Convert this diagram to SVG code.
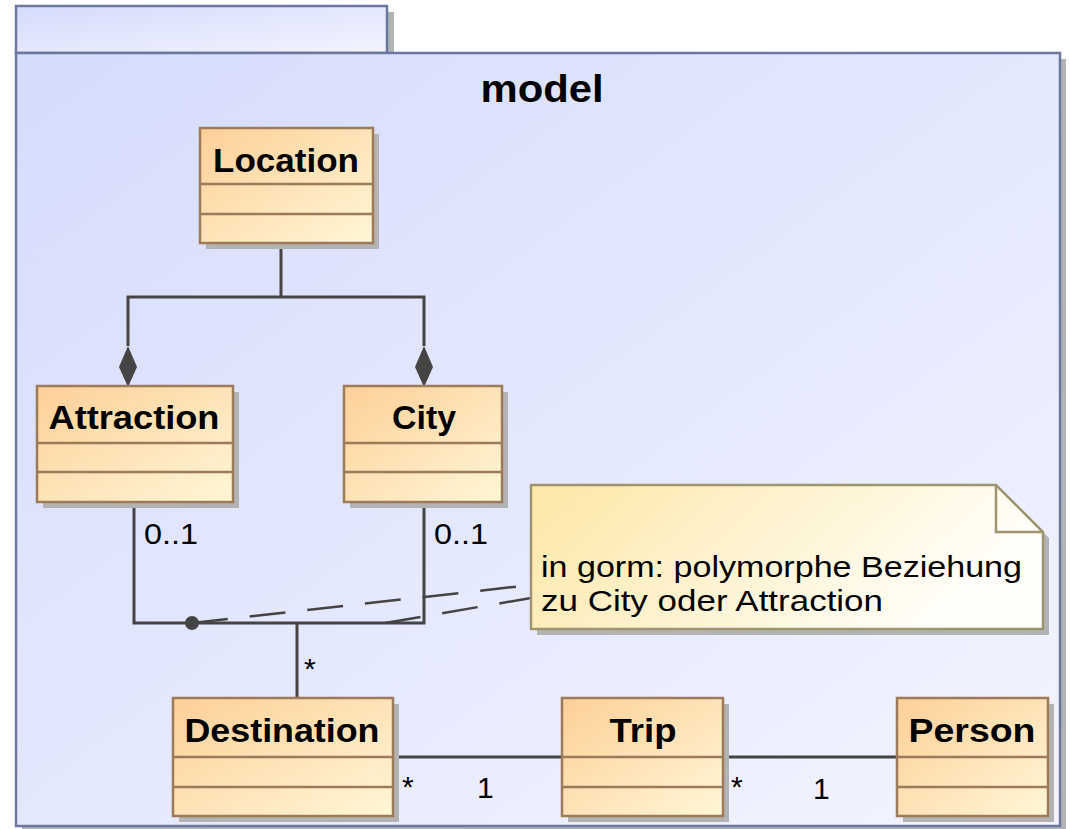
<svg xmlns="http://www.w3.org/2000/svg" width="1070" height="829" viewBox="0 0 1070 829">
<defs>
<linearGradient id="pkg" x1="0" y1="0" x2="1" y2="1">
<stop offset="0" stop-color="#d5dcfb"/>
<stop offset="1" stop-color="#f3f4ff"/>
</linearGradient>
<linearGradient id="cls" x1="0" y1="0" x2="1" y2="1">
<stop offset="0" stop-color="#fdcf98"/>
<stop offset="1" stop-color="#fff7d6"/>
</linearGradient>
<linearGradient id="note" x1="0" y1="0" x2="1" y2="0.3">
<stop offset="0" stop-color="#fde7a6"/>
<stop offset="1" stop-color="#fffefa"/>
</linearGradient>
</defs>
<style>
.shadow{fill:#b3b3b3}
.pkg{fill:url(#pkg);stroke:#6b779f;stroke-width:2.5}
.cls{fill:url(#cls);stroke:#9c7a5a;stroke-width:2.5}
.sep{stroke:#9c7a5a;stroke-width:2.5}
.name{font-family:"Liberation Sans",Arial,sans-serif;font-weight:bold;font-size:34px;fill:#000;text-anchor:middle}
.mult{font-family:"Liberation Sans",Arial,sans-serif;font-size:30px;fill:#000}
.line{fill:none;stroke:#444;stroke-width:3}
.dash{fill:none;stroke:#444;stroke-width:2.5;stroke-dasharray:36,22}
.note{fill:url(#note);stroke:#9e9470;stroke-width:2.5}
.ntext{font-family:"Liberation Sans",Arial,sans-serif;font-size:29px;fill:#000}
</style>

<g id="package">
<rect class="shadow" x="22" y="12" width="372" height="47"/>
<rect class="shadow" x="22" y="59" width="1044" height="773"/>
<rect class="pkg" x="16" y="6" width="371" height="47"/>
<rect class="pkg" x="16" y="53" width="1044" height="773"/>
<text x="542" y="102" font-family="Liberation Sans, Arial, sans-serif" font-weight="bold" font-size="38" text-anchor="middle" textLength="123" lengthAdjust="spacingAndGlyphs">model</text>
</g>

<g id="connectors">
<polyline class="line" points="281,243 281,297"/>
<polyline class="line" points="128,346 128,297 424,297 424,346"/>
<polygon points="128,346 137,367 128,387 119,367" fill="#444"/>
<polygon points="424,346 433,367 424,387 415,367" fill="#444"/>
<polyline class="line" points="134,502 134,623 424,623 424,502"/>
<line class="line" x1="297" y1="623" x2="297" y2="698"/>
<circle cx="192" cy="623" r="7" fill="#444"/>
<line class="dash" x1="192" y1="623" x2="531" y2="585"/>
<line class="dash" x1="385" y1="623" x2="531" y2="598" stroke-dasharray="44,22"/>
<line class="line" x1="393" y1="757" x2="562" y2="757"/>
<line class="line" x1="723" y1="757" x2="897" y2="757"/>
<text class="mult" x="144" y="544" textLength="54" lengthAdjust="spacingAndGlyphs">0..1</text>
<text class="mult" x="434" y="544" textLength="54" lengthAdjust="spacingAndGlyphs">0..1</text>
<text class="mult" x="304" y="679">*</text>
<text class="mult" x="402" y="797">*</text>
<text class="mult" x="477" y="798">1</text>
<text class="mult" x="731" y="797">*</text>
<text class="mult" x="813" y="799">1</text>
</g>

<g id="Location">
<rect class="shadow" x="206" y="134" width="173" height="115"/>
<rect class="cls" x="200" y="128" width="173" height="115"/>
<line class="sep" x1="200" y1="184" x2="373" y2="184"/>
<line class="sep" x1="200" y1="214" x2="373" y2="214"/>
<text class="name" x="286" y="172" textLength="146" lengthAdjust="spacingAndGlyphs">Location</text>
</g>

<g id="Attraction">
<rect class="shadow" x="43" y="392" width="196" height="116"/>
<rect class="cls" x="37" y="386" width="196" height="116"/>
<line class="sep" x1="37" y1="443" x2="233" y2="443"/>
<line class="sep" x1="37" y1="472" x2="233" y2="472"/>
<text class="name" x="134" y="429" textLength="171" lengthAdjust="spacingAndGlyphs">Attraction</text>
</g>

<g id="City">
<rect class="shadow" x="350" y="392" width="158" height="116"/>
<rect class="cls" x="344" y="386" width="158" height="116"/>
<line class="sep" x1="344" y1="443" x2="502" y2="443"/>
<line class="sep" x1="344" y1="472" x2="502" y2="472"/>
<text class="name" x="424" y="429" textLength="64" lengthAdjust="spacingAndGlyphs">City</text>
</g>

<g id="Note">
<polygon class="shadow" points="537,491 1002,491 1049,538 1049,635 537,635"/>
<polygon class="note" points="531,485 996,485 1043,532 1043,629 531,629"/>
<polyline points="996,485 996,532 1043,532" fill="none" stroke="#9e9470" stroke-width="2.5"/>
<text class="ntext" x="541" y="577" textLength="481" lengthAdjust="spacingAndGlyphs">in gorm: polymorphe Beziehung</text>
<text class="ntext" x="541" y="611" textLength="342" lengthAdjust="spacingAndGlyphs">zu City oder Attraction</text>
</g>

<g id="Destination">
<rect class="shadow" x="179" y="704" width="220" height="118"/>
<rect class="cls" x="173" y="698" width="220" height="118"/>
<line class="sep" x1="173" y1="757" x2="393" y2="757"/>
<line class="sep" x1="173" y1="787" x2="393" y2="787"/>
<text class="name" x="282" y="742" textLength="195" lengthAdjust="spacingAndGlyphs">Destination</text>
</g>

<g id="Trip">
<rect class="shadow" x="568" y="704" width="161" height="118"/>
<rect class="cls" x="562" y="698" width="161" height="118"/>
<line class="sep" x1="562" y1="757" x2="723" y2="757"/>
<line class="sep" x1="562" y1="787" x2="723" y2="787"/>
<text class="name" x="643" y="742" textLength="67" lengthAdjust="spacingAndGlyphs">Trip</text>
</g>

<g id="Person">
<rect class="shadow" x="903" y="704" width="151" height="118"/>
<rect class="cls" x="897" y="698" width="151" height="118"/>
<line class="sep" x1="897" y1="757" x2="1048" y2="757"/>
<line class="sep" x1="897" y1="787" x2="1048" y2="787"/>
<text class="name" x="972" y="742" textLength="127" lengthAdjust="spacingAndGlyphs">Person</text>
</g>
</svg>
